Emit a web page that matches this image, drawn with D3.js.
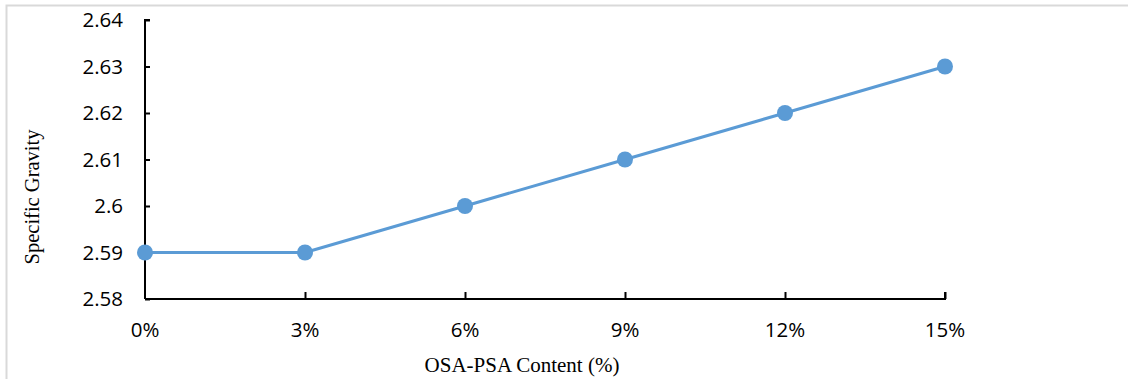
<!DOCTYPE html>
<html><head><meta charset="utf-8">
<script src="https://cdn.jsdelivr.net/npm/d3@7"></script>
<style>html,body{margin:0;padding:0;background:#fff;}svg{display:block;}</style>
</head><body>
<svg id="c" width="1128" height="379"></svg>
<script>
const categories = ["0%", "3%", "6%", "9%", "12%", "15%"];
const values = [2.59, 2.59, 2.60, 2.61, 2.62, 2.63];
const yTicks = [2.58, 2.59, 2.60, 2.61, 2.62, 2.63, 2.64];
const yTickLabels = ["2.58", "2.59", "2.6", "2.61", "2.62", "2.63", "2.64"];

const svg = d3.select("#c");
svg.append("rect").attr("x", 6.5).attr("y", 5.5).attr("width", 1200).attr("height", 500)
  .attr("fill", "none").attr("stroke", "#d9d9d9").attr("stroke-width", 2);

const x = d3.scalePoint().domain(categories).range([145, 945]);
const y = d3.scaleLinear().domain([2.58, 2.64]).range([299, 20]);

const tickFont = "Open Sans, Lato, sans-serif";
// Y axis
const yAxis = svg.append("g").attr("transform", "translate(145,0)")
  .call(d3.axisRight(y).tickValues(yTicks).tickSize(5).tickFormat((d,i)=>""));
yAxis.select(".domain").attr("stroke", "#000").attr("stroke-width", 2).attr("d", `M5,${y(2.64)}H0V${y(2.58)}`);
yAxis.selectAll(".tick line").attr("stroke", "#000").attr("stroke-width", 2);
svg.append("g").selectAll("text").data(yTicks).join("text")
  .attr("x", 123).attr("y", d => y(d)).attr("dy", "0.36em")
  .attr("text-anchor", "end").attr("font-family", tickFont).attr("font-size", 20.5).attr("fill", "#000")
  .text((d,i) => yTickLabels[i]);

// X axis
const xAxis = svg.append("g").attr("transform", "translate(0,299)")
  .call(d3.axisTop(x).tickSize(7).tickFormat(""));
xAxis.select(".domain").attr("stroke", "#000").attr("stroke-width", 2).attr("d", `M${x(categories[0])},0H${x(categories[5])}V-7`);
xAxis.selectAll(".tick line").attr("stroke", "#000").attr("stroke-width", 2);
xAxis.selectAll(".tick").filter((d,i)=>i===0).select("line").remove();
svg.append("g").selectAll("text").data(categories).join("text")
  .attr("x", d => x(d)).attr("y", 330).attr("dy", "0.36em")
  .attr("text-anchor", "middle").attr("font-family", tickFont).attr("font-size", 20.5).attr("fill", "#000")
  .text(d => d);

// Line
const line = d3.line().x((d,i) => x(categories[i])).y(d => y(d));
svg.append("path").datum(values).attr("d", line).attr("fill", "none")
  .attr("stroke", "#5B9BD5").attr("stroke-width", 3).attr("stroke-linejoin", "round");
svg.append("g").selectAll("circle").data(values).join("circle")
  .attr("cx", (d,i) => x(categories[i])).attr("cy", d => y(d)).attr("r", 8).attr("fill", "#5B9BD5");

// Axis titles
svg.append("text").attr("transform", "translate(39,197) rotate(-90)")
  .attr("text-anchor", "middle").attr("font-family", "Liberation Serif, Times New Roman, serif")
  .attr("font-size", 20.5).attr("fill", "#000").text("Specific Gravity");
svg.append("text").attr("x", 522).attr("y", 372)
  .attr("text-anchor", "middle").attr("font-family", "Liberation Serif, Times New Roman, serif")
  .attr("font-size", 21).attr("fill", "#000").text("OSA-PSA Content (%)");
</script>
</body></html>
